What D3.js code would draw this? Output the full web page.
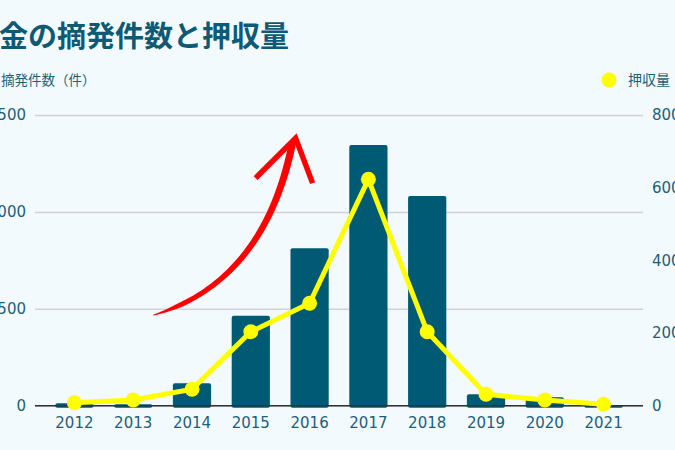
<!DOCTYPE html>
<html><head><meta charset="utf-8">
<script src="https://cdn.jsdelivr.net/npm/d3@7"></script>
<style>
html,body{margin:0;padding:0;background:#f3fafe;overflow:hidden;}
svg{display:block;}
</style></head>
<body>
<svg id="c" width="675" height="450"></svg>
<script>
const years = ["2012","2013","2014","2015","2016","2017","2018","2019","2020","2021"];
const cases = [12, 8, 116, 464, 812, 1345, 1082, 59, 43, 3];
const seizedKg = [83, 157, 451, 2036, 2818, 6230, 2036, 314, 157, 39];
const leftTicks = [0, 500, 1000, 1500];
const rightTicks = [0, 2000, 4000, 6000, 8000];
const titleText = "密輸金の摘発件数と押収量";
const leftLegend = "摘発件数（件）";
const rightLegend = "押収量（kg）";

const svg = d3.select("#c");
const W = 675, H = 450;
svg.append("rect").attr("width", W).attr("height", H).attr("fill", "#f3fafe");

const plot = {left: 35, right: 643, top: 115, bottom: 405.7};
const x = d3.scaleBand().domain(years).range([plot.left, plot.right]).paddingInner(0.35).paddingOuter(0.345);
const yL = d3.scaleLinear().domain([0, 1500]).range([plot.bottom, plot.top]);
const yR = d3.scaleLinear().domain([0, 8000]).range([plot.bottom, plot.top]);
const cx = d => x(d) + x.bandwidth() / 2;

const cjk = "'Noto Sans CJK JP','Noto Sans',sans-serif";
const num = "'DejaVu Sans',Verdana,sans-serif";
const textCol = "#1d5f78";

// title
svg.append("text").attr("x", 289).attr("y", 47).attr("text-anchor", "end")
  .attr("font-family", cjk).attr("font-weight", 700).attr("font-size", 29)
  .attr("fill", "#0e5a75").text(titleText);

// legends
svg.append("text").attr("x", 1).attr("y", 85).attr("font-family", cjk).attr("font-size", 13.5)
  .attr("fill", textCol).text(leftLegend);
svg.append("circle").attr("cx", 609).attr("cy", 80).attr("r", 7.5).attr("fill", "#ffff00");
svg.append("text").attr("x", 628).attr("y", 85).attr("font-family", cjk).attr("font-size", 14)
  .attr("fill", textCol).text(rightLegend);

// gridlines + left axis
const gl = d3.axisLeft(yL).tickValues(leftTicks).tickSize(-(plot.right - plot.left)).tickPadding(9).tickFormat(d3.format("d"));
const gAxL = svg.append("g").attr("transform", `translate(${plot.left},0)`).call(gl);
gAxL.select(".domain").remove();
gAxL.selectAll(".tick line").attr("stroke", "#cfd3d6").attr("stroke-width", 1.5);
gAxL.selectAll(".tick text").attr("font-family", num).attr("font-size", 15).attr("fill", textCol);

// right axis
const ar = d3.axisRight(yR).tickValues(rightTicks).tickSize(0).tickPadding(9).tickFormat(d3.format("d"));
const gAxR = svg.append("g").attr("transform", `translate(${plot.right},0)`).call(ar);
gAxR.select(".domain").remove();
gAxR.selectAll(".tick text").attr("font-family", num).attr("font-size", 15).attr("fill", textCol);

// bars
svg.append("g").selectAll("rect").data(years).join("rect")
  .attr("x", d => x(d)).attr("width", x.bandwidth())
  .attr("y", (d, i) => yL(cases[i])).attr("height", (d, i) => plot.bottom - yL(cases[i]) + 2)
  .attr("rx", 2).attr("fill", "#005a73");

// baseline + x axis
const ax = d3.axisBottom(x).tickSize(0).tickPadding(12);
const gAxX = svg.append("g").attr("transform", `translate(0,${plot.bottom})`).call(ax);
gAxX.select(".domain").remove();
gAxX.selectAll(".tick text").attr("font-family", num).attr("font-size", 15).attr("fill", textCol);
svg.append("line").attr("x1", plot.left).attr("x2", plot.right).attr("y1", plot.bottom).attr("y2", plot.bottom)
  .attr("stroke", "#333").attr("stroke-width", 1.5);

// red arrow annotation
(function(){
  const P0 = [cx("2013") + 20, yL(467)];
  const P2 = [cx("2016") - 17, yL(1360)];
  const C = [cx("2015") + 14, yL(640)];
  const pt = t => [(1-t)*(1-t)*P0[0] + 2*(1-t)*t*C[0] + t*t*P2[0], (1-t)*(1-t)*P0[1] + 2*(1-t)*t*C[1] + t*t*P2[1]];
  const dr = t => [2*(1-t)*(C[0]-P0[0]) + 2*t*(P2[0]-C[0]), 2*(1-t)*(C[1]-P0[1]) + 2*t*(P2[1]-C[1])];
  const left = [], right = [];
  const N = 80;
  for (let i = 0; i <= N; i++) {
    const t = i / N, p = pt(t), d = dr(t);
    const L = Math.hypot(d[0], d[1]);
    const nx = -d[1] / L, ny = d[0] / L;
    const w = 0.4 + 1.8 * Math.min(1, t / 0.12) + 1.5 * t;
    left.push([p[0] + nx * w, p[1] + ny * w]);
    right.push([p[0] - nx * w, p[1] - ny * w]);
  }
  const poly = left.concat(right.reverse());
  svg.append("path").attr("d", d3.line()(poly) + "Z").attr("fill", "#ff0000");
  const apex = [P2[0] + 3, P2[1] - 4];
  svg.append("path")
    .attr("d", d3.line()([[apex[0] - 40, apex[1] + 40], apex, [apex[0] + 17, apex[1] + 45]]))
    .attr("fill", "none").attr("stroke", "#ff0000").attr("stroke-width", 5.5)
    .attr("stroke-linejoin", "miter").attr("stroke-miterlimit", 10).attr("stroke-linecap", "butt");
})();

// line + points
const line = d3.line().x((d, i) => cx(years[i])).y(d => yR(d));
svg.append("path").datum(seizedKg).attr("d", line).attr("fill", "none")
  .attr("stroke", "#ffff00").attr("stroke-width", 5).attr("stroke-linejoin", "round");
svg.append("g").selectAll("circle").data(seizedKg).join("circle")
  .attr("cx", (d, i) => cx(years[i])).attr("cy", d => yR(d)).attr("r", 7.5).attr("fill", "#ffff00");
</script>
</body></html>
